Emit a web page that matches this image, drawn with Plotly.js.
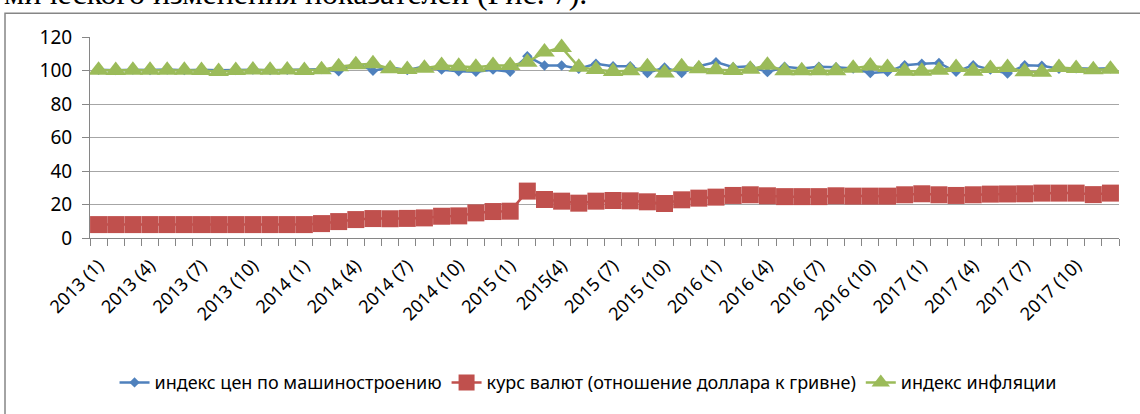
<!DOCTYPE html>
<html><head><meta charset="utf-8">
<script src="https://cdn.plot.ly/plotly-3.0.1.min.js"></script>
<style>html,body{margin:0;padding:0;background:#fff;overflow:hidden}#chart{width:1140px;height:414px}</style>
</head><body><div id="chart"></div>
<script>
const categories = [
  "2013 (1)","2013 (2)","2013 (3)","2013 (4)","2013 (5)","2013 (6)","2013 (7)","2013 (8)","2013 (9)","2013 (10)","2013 (11)","2013 (12)",
  "2014 (1)","2014 (2)","2014 (3)","2014 (4)","2014 (5)","2014 (6)","2014 (7)","2014 (8)","2014 (9)","2014 (10)","2014 (11)","2014 (12)",
  "2015 (1)","2015 (2)","2015 (3)","2015(4)","2015 (5)","2015 (6)","2015 (7)","2015 (8)","2015 (9)","2015 (10)","2015 (11)","2015 (12)",
  "2016 (1)","2016 (2)","2016 (3)","2016 (4)","2016 (5)","2016 (6)","2016 (7)","2016 (8)","2016 (9)","2016 (10)","2016 (11)","2016 (12)",
  "2017 (1)","2017 (2)","2017 (3)","2017 (4)","2017 (5)","2017 (6)","2017 (7)","2017 (8)","2017 (9)","2017 (10)","2017 (11)","2017 (12)"
];
const tickLabels = ["2013 (1)","2013 (4)","2013 (7)","2013 (10)","2014 (1)","2014 (4)","2014 (7)","2014 (10)","2015 (1)","2015(4)",
  "2015 (7)","2015 (10)","2016 (1)","2016 (4)","2016 (7)","2016 (10)","2017 (1)","2017 (4)","2017 (7)","2017 (10)"];

const seriesNames = ["индекс цен по машиностроению","курс валют (отношение доллара к гривне)","индекс инфляции"];

const machineIndex = [
  100.4,100.2,100.5,100.3,100.6,100.2,100.4,100.1,100.3,100.5,100.2,100.4,
  100.5,100.8,99.5,104.5,99.8,102.0,100.2,102.5,100.5,99.5,99.2,100.5,
  99.2,108.5,103.0,103.0,101.0,104.0,102.5,102.5,98.5,101.8,98.5,102.5,
  105.0,102.0,102.5,99.0,102.2,101.2,102.2,102.0,101.2,98.5,99.2,103.2,
  104.0,104.5,99.2,103.2,100.5,98.2,103.2,102.8,101.0,101.3,101.0,101.3
];
const exchangeRate = [
  8.0,8.0,8.0,8.0,8.0,8.0,8.0,8.0,8.0,8.0,8.0,8.0,
  8.0,8.6,9.8,11.0,11.6,11.5,11.7,12.0,13.0,13.2,15.0,15.8,
  16.0,28.0,23.0,22.0,20.8,22.0,22.4,22.2,21.6,20.6,22.8,23.8,
  24.4,25.4,25.8,25.2,24.7,24.7,24.7,25.2,25.0,25.0,25.0,25.8,
  26.4,25.8,25.4,25.8,26.2,26.3,26.4,26.8,26.8,26.8,25.9,26.8
];
const inflationIndex = [
  100.2,100.0,100.1,100.1,100.1,100.1,100.0,99.4,100.0,100.3,100.2,100.3,
  100.0,100.5,102.2,103.4,104.0,101.0,100.6,101.4,103.0,102.5,102.0,103.0,
  103.0,105.0,111.0,113.8,102.0,100.6,99.4,99.9,102.2,98.5,102.2,101.0,
  100.5,100.0,100.8,103.2,99.8,99.8,99.8,99.8,101.4,102.7,101.8,99.5,
  99.5,100.2,101.8,99.5,101.2,101.8,99.2,99.0,101.8,101.2,100.5,100.8
];
const headingText = "мического изменения показателей (Рис. 7).";

const xIdx = categories.map((c, i) => i);
const tickPos = tickLabels.map(t => categories.indexOf(t));

const traces = [
  {x: xIdx, y: machineIndex, name: seriesNames[0], type: 'scatter', mode: 'lines+markers',
   line: {color: '#4F81BD', width: 2.5}, marker: {symbol: 'diamond', size: 8, color: '#4F81BD'}},
  {x: xIdx, y: exchangeRate, name: seriesNames[1], type: 'scatter', mode: 'lines+markers',
   line: {color: '#C0504D', width: 2.5}, marker: {symbol: 'square', size: 17, color: '#C0504D'}},
  {x: xIdx, y: inflationIndex, name: seriesNames[2], type: 'scatter', mode: 'lines+markers',
   line: {color: '#9BBB59', width: 2.5}, marker: {symbol: 'triangle-up', size: 18, color: '#9BBB59'}}
];

const axisGrey = '#868686';
const layout = {
  width: 1140, height: 414,
  margin: {l: 90, r: 21, t: 37, b: 173, pad: 0},
  paper_bgcolor: '#fff', plot_bgcolor: '#fff',
  showlegend: true,
  font: {family: 'Noto Sans, Lato, sans-serif', color: '#000'},
  xaxis: {
    range: [-0.5, 59.5], tickmode: 'array', tickvals: tickPos, ticktext: tickLabels,
    tickangle: -45, ticks: '', showgrid: false, zeroline: false,
    showline: true, linecolor: axisGrey, linewidth: 1,
    ticklabelstandoff: 9,
    tickfont: {family: 'Noto Sans, sans-serif', size: 18, color: '#000'},
    minor: {tickmode: 'linear', tick0: -0.5, dtick: 1, ticks: 'outside', ticklen: 7, tickcolor: axisGrey, tickwidth: 1, showgrid: false}
  },
  yaxis: {
    range: [0, 120], tickmode: 'linear', tick0: 0, dtick: 20,
    showgrid: true, gridcolor: '#a6a6a6', gridwidth: 1, zeroline: false,
    showline: true, linecolor: axisGrey, linewidth: 1,
    ticks: 'outside', ticklen: 7, tickcolor: axisGrey, tickwidth: 1,
    ticklabelstandoff: 6,
    tickfont: {family: 'Noto Sans, sans-serif', size: 19, color: '#000'}
  },
  legend: {orientation: 'h', x: 0.484, xanchor: 'center', y: -0.72, yanchor: 'middle',
    font: {family: 'Noto Sans, sans-serif', size: 18, color: '#000'}, bgcolor: 'rgba(0,0,0,0)', traceorder: 'normal'},
  shapes: [
    {type: 'rect', xref: 'paper', yref: 'paper', x0: -0.0826, x1: 1.05, y0: -1.2, y1: 1.1176,
     line: {color: axisGrey, width: 1.5}, fillcolor: 'rgba(0,0,0,0)', layer: 'below'}
  ],
  annotations: [
    {text: headingText, xref: 'paper', yref: 'paper', x: -0.0855, y: 1.12, xanchor: 'left', yanchor: 'bottom',
     showarrow: false, font: {family: 'Liberation Serif, Times New Roman, serif', size: 32, color: '#000'}}
  ]
};

Plotly.newPlot('chart', traces, layout, {staticPlot: true, displayModeBar: false});
</script>
</body></html>
